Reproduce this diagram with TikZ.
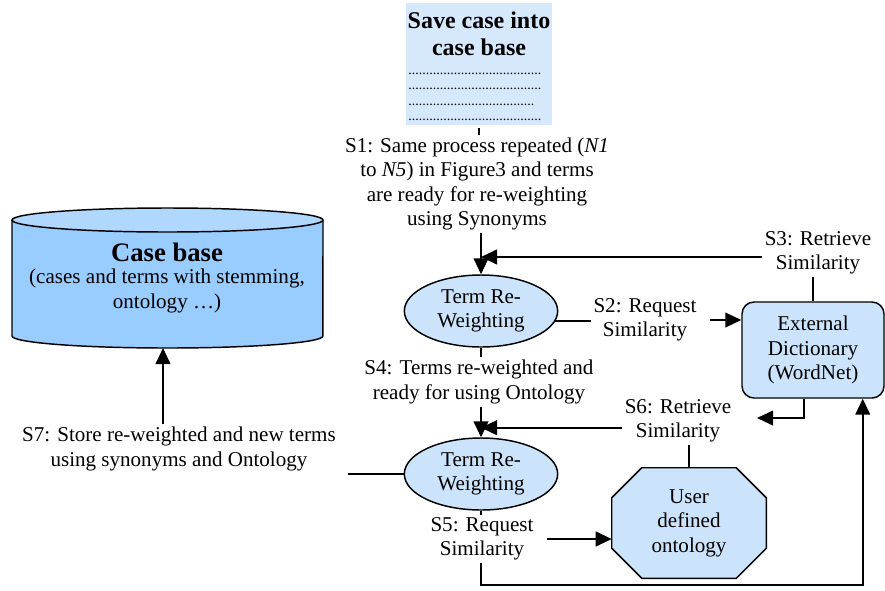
\documentclass[tikz,border=0pt]{standalone}
\usepackage{fontspec}
\setmainfont{Liberation Serif}
\usetikzlibrary{arrows.meta,shapes.geometric}
\definecolor{nodefill}{RGB}{204,228,251}
\definecolor{savefill}{RGB}{213,232,252}
\definecolor{cylbody}{RGB}{153,204,255}
\definecolor{cyltop}{RGB}{176,216,255}
\newcommand\lblfont{\fontsize{15.8}{18.3}\selectfont}
\tikzset{
  lbl/.style={align=center, font=\lblfont, inner sep=2pt},
  ell/.style={ellipse, draw, line width=1.1pt, fill=nodefill, minimum width=115pt, minimum height=54pt, inner sep=0pt, align=center, font=\lblfont},
  dictbox/.style={rectangle, rounded corners=9pt, draw, line width=1.1pt, fill=nodefill, minimum width=106.5pt, minimum height=72pt, align=center, font=\lblfont},
  octbox/.style={rectangle, minimum width=115.5pt, minimum height=82.5pt, inner sep=0pt, align=center, font=\lblfont},
  savebox/.style={rectangle, fill=savefill, minimum width=109.5pt, minimum height=91.5pt, inner sep=0pt},
  dotrow/.style={font=\fontsize{10.5}{11.5}\selectfont, inner sep=0pt, anchor=base west},
  conn/.style={line width=1.5pt},
  arr/.style={conn, -{Triangle[length=12pt,width=11pt]}},
}
\begin{document}
\begin{tikzpicture}[x=0.75pt,y=0.75pt]
\useasboundingbox (0,0) rectangle (885,-590);

% Save case box
\node[savebox] (save) at (479,-64) {};
\node[align=center, font=\fontsize{18}{20.3}\selectfont\bfseries, inner sep=0pt] (savetitle) at (479,-34) {Save case into\\case base};
\node[dotrow] (d1) at (408,-74) {......................................};
\node[dotrow] (d2) at (408,-89) {......................................};
\node[dotrow] (d3) at (408,-105) {....................................};
\node[dotrow] (d4) at (408,-120) {......................................};

% Cylinder (case base)
\fill[cylbody] (12,-220) -- (12,-336) arc[start angle=180,end angle=360,x radius=116.6pt,y radius=9pt] -- (323,-220) -- cycle;
\draw[line width=1.1pt] (12,-220) -- (12,-336) arc[start angle=180,end angle=360,x radius=116.6pt,y radius=9pt] -- (323,-220);
\filldraw[fill=cyltop, line width=1.1pt] (167.5,-220) ellipse [x radius=116.6pt, y radius=9pt];
\node[font=\fontsize{20}{22}\selectfont\bfseries, inner sep=0pt] (cbtitle) at (167,-252) {Case base};
\node[lbl] (cbsub) at (167,-291) {(cases and terms with stemming,\\ontology …)};
\coordinate (cbbot) at (163,-348);

% Labels
\node[lbl] (s1) at (477,-184) {S1: Same process repeated (\textit{N1}\\to \textit{N5}) in Figure3 and terms\\are ready for re-weighting\\using Synonyms};
\node[lbl] (s2) at (645,-320) {S2: Request\\Similarity};
\node[lbl] (s3) at (818,-253) {S3: Retrieve\\Similarity};
\node[lbl] (s4) at (479,-382) {S4: Terms re-weighted and\\ready for using Ontology};
\node[lbl] (s5) at (482,-539) {S5: Request\\Similarity};
\node[lbl] (s6) at (678,-421) {S6: Retrieve\\Similarity};
\node[lbl] (s7) at (179,-449) {S7: Store re-weighted and new terms\\using synonyms and Ontology};

% Main nodes
\node[ell] (e1) at (481,-311) {Term Re-\\Weighting};
\node[ell] (e2) at (481,-474) {Term Re-\\Weighting};
\node[dictbox] (dict) at (813,-350) {External\\Dictionary\\(WordNet)};
\node[octbox] (oct) at (689,-523) {};
\filldraw[fill=nodefill, line width=1.1pt]
  ([xshift=22.5pt]oct.north west) -- ([xshift=-22.5pt]oct.north east)
  -- ([yshift=-22.5pt]oct.north east) -- ([yshift=22.5pt]oct.south east)
  -- ([xshift=-22.5pt]oct.south east) -- ([xshift=22.5pt]oct.south west)
  -- ([yshift=22.5pt]oct.south west) -- ([yshift=-22.5pt]oct.north west) -- cycle;
\node[octbox] (octtext) at (oct) {User\\defined\\ontology};

% Free-end coordinates
\coordinate (s6tip) at (757,-418);
\coordinate (s7end) at (348,-472);
\coordinate (corner) at (620,-585);

% Connectors
\draw[conn] (save.south) ++(0,-3) -- (save.south |- s1.north);
\draw[arr] (s1.south -| e1.north) -- (e1.north);
\draw[arr] ([yshift=-3pt]s3.west) -- ([yshift=-3pt]s3.west -| e1.north);
\draw[conn] (s3.south -| dict.north) -- (dict.north);
\draw[conn] (e1.-8) -- (e1.-8 -| s2.west);
\draw[arr] (s2.east) ++(8pt,0) -- (s2.east -| dict.west);
\draw[conn] (e1.south) -- (e1.south |- s4.north);
\draw[arr] (e2.north |- s4.south) -- (e2.north);
\draw[arr] ([xshift=-6.75pt]dict.south) |- (s6tip);
\draw[arr] ([yshift=-5pt]s6.west) -- ([yshift=-5pt]s6.west -| e2.north);
\draw[conn] (s6.south -| oct.north) -- (oct.north);
\draw[conn] (e2.west) -- (e2.west -| s7end);
\draw[arr] (s7.north -| cbbot) -- (cbbot);
\draw[conn] (e2.south) -- (e2.south |- s5.north);
\draw[arr] (s5.east) ++(8pt,0) -- (s5.east -| oct.west);
\draw[arr] (e2.south |- s5.south) |- (corner) -| ([xshift=-16.5pt]dict.south east);
\end{tikzpicture}
\end{document}
